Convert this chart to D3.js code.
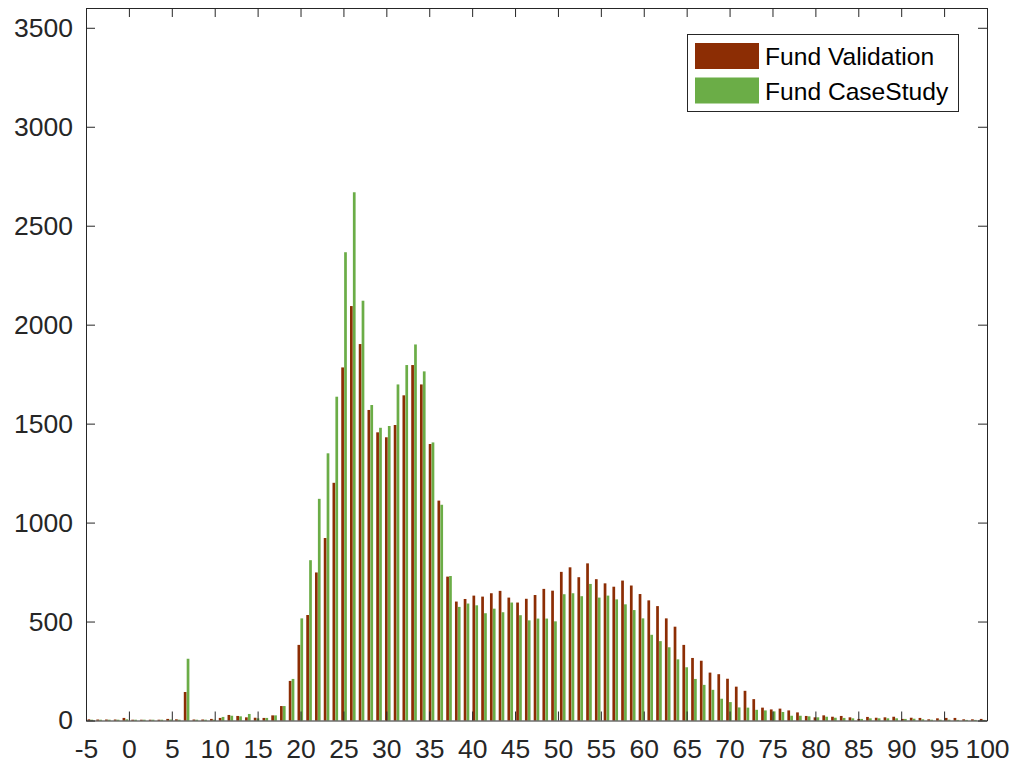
<!DOCTYPE html>
<html>
<head>
<meta charset="utf-8">
<script src="https://cdn.jsdelivr.net/npm/d3@7"></script>
<style>
  html, body { margin: 0; padding: 0; background: #ffffff; }
  svg { display: block; }
  text { font-family: "Liberation Sans", Arial, Helvetica, sans-serif; }
</style>
</head>
<body>
<svg id="chart" width="1015" height="769"></svg>
<script>
// ---- data ----
const seriesNames = ["Fund Validation", "Fund CaseStudy"];
const xDomain = [-5, 100];
const yDomain = [0, 3600];
const xTicks = [-5, 0, 5, 10, 15, 20, 25, 30, 35, 40, 45, 50, 55, 60, 65, 70, 75, 80, 85, 90, 95, 100];
const yTicks = [0, 500, 1000, 1500, 2000, 2500, 3000, 3500];

const validation = [
  6, 5, 5, 5, 13, 4, 4, 4, 4, 8, 6,
  144,
  5, 5, 8,
  13, 28, 23, 16, 14, 13, 26, 73,
  200, 382, 533, 748, 922, 1201, 1784, 2094, 1902, 1569, 1456, 1431, 1493, 1643, 1796, 1698, 1397, 1111, 727,
  601, 614, 631, 626, 643, 655, 621, 596, 615, 634, 665, 656,
  751, 774, 724, 794, 714, 693, 676, 707, 682, 639,
  607, 578, 516, 474, 382, 316, 302, 242, 234, 211, 171, 150, 108,
  65, 56, 60, 51, 41, 23, 16, 26, 19, 23, 16, 8, 18,
  14, 16, 19, 8, 14, 13, 6, 11, 13, 13, 6, 6, 8
];
const caseStudy = [
  4, 4, 4, 4, 6, 4, 4, 4, 4, 5, 4,
  312,
  4, 4, 4,
  18, 24, 21, 33, 11, 13, 26, 73,
  210, 516, 810, 1120, 1350, 1636, 2366, 2669, 2121, 1594, 1479, 1488, 1698, 1796, 1900, 1764, 1405, 1090, 730,
  574, 591, 582, 542, 565, 547, 596, 532, 506, 515, 515, 501,
  638, 643, 628, 690, 621, 631, 612, 587, 558, 516,
  433, 401, 370, 309, 269, 210, 180, 155, 110, 93, 66, 65, 54,
  51, 46, 43, 24, 24, 21, 16, 19, 14, 13, 11, 8, 11,
  11, 11, 11, 8, 9, 6, 4, 4, 4, 3, 3, 3, 3
];

// ---- layout / style ----
const colors = ["#8C2D04", "#6BAD47"];
const axisColor = "#262626";
const plot = { left: 86, right: 987, top: 8, bottom: 720.5 };

const svg = d3.select("#chart");
svg.append("rect").attr("width", 1015).attr("height", 769).attr("fill", "#ffffff");

const x = d3.scaleLinear().domain(xDomain).range([plot.left, plot.right]);
const y = d3.scaleLinear().domain(yDomain).range([plot.bottom, plot.top]);

// bins evenly span the x domain
const nBins = validation.length;
const binWidth = (xDomain[1] - xDomain[0]) / nBins;
const centers = d3.range(nBins).map(i => xDomain[0] + (i + 0.5) * binWidth);
const binPx = x(binWidth) - x(0);
const barW = binPx * 0.31;
const offsets = [-0.165 * binPx, 0.165 * binPx];

const series = [validation, caseStudy];
series.forEach((vals, s) => {
  svg.append("g")
    .selectAll("rect")
    .data(vals.map((v, i) => ({ v, c: centers[i] })))
    .join("rect")
    .attr("x", d => x(d.c) + offsets[s] - barW / 2)
    .attr("width", barW)
    .attr("y", d => y(d.v))
    .attr("height", d => y(0) - y(d.v))
    .attr("fill", colors[s]);
});

// ---- axes (box with inward ticks) ----
const fontSize = 26.5;
const fmt = d => String(d);
function styleAxis(g) {
  g.selectAll("path.domain").attr("stroke", axisColor).attr("stroke-width", 1);
  g.selectAll(".tick line").attr("stroke", axisColor).attr("stroke-width", 1);
  g.selectAll(".tick text").attr("fill", axisColor).attr("font-size", fontSize)
    .attr("font-family", '"Liberation Sans", Arial, Helvetica, sans-serif');
}

svg.append("g").attr("transform", `translate(0,${plot.bottom})`)
  .call(d3.axisBottom(x).tickValues(xTicks).tickSize(-9).tickSizeOuter(0).tickPadding(19).tickFormat(fmt))
  .call(styleAxis);
svg.append("g").attr("transform", `translate(0,${plot.top})`)
  .call(d3.axisTop(x).tickValues(xTicks).tickSize(-9).tickSizeOuter(0).tickFormat(""))
  .call(styleAxis);
svg.append("g").attr("transform", `translate(${plot.left},0)`)
  .call(d3.axisLeft(y).tickValues(yTicks).tickSize(-9).tickSizeOuter(0).tickPadding(13).tickFormat(fmt))
  .call(styleAxis);
svg.append("g").attr("transform", `translate(${plot.right},0)`)
  .call(d3.axisRight(y).tickValues(yTicks).tickSize(-9).tickSizeOuter(0).tickFormat(""))
  .call(styleAxis);

// ---- legend ----
const legend = svg.append("g");
legend.append("rect")
  .attr("x", 687.5).attr("y", 34.5).attr("width", 271).attr("height", 77)
  .attr("fill", "#ffffff").attr("stroke", axisColor).attr("stroke-width", 1);
seriesNames.forEach((name, s) => {
  const top = 43 + s * 34.5;
  legend.append("rect")
    .attr("x", 695).attr("y", top).attr("width", 64).attr("height", 26)
    .attr("fill", colors[s]);
  legend.append("text")
    .attr("x", 765).attr("y", top + 22)
    .attr("font-size", 24.6).attr("fill", "#000000")
    .text(name);
});
</script>
</body>
</html>
